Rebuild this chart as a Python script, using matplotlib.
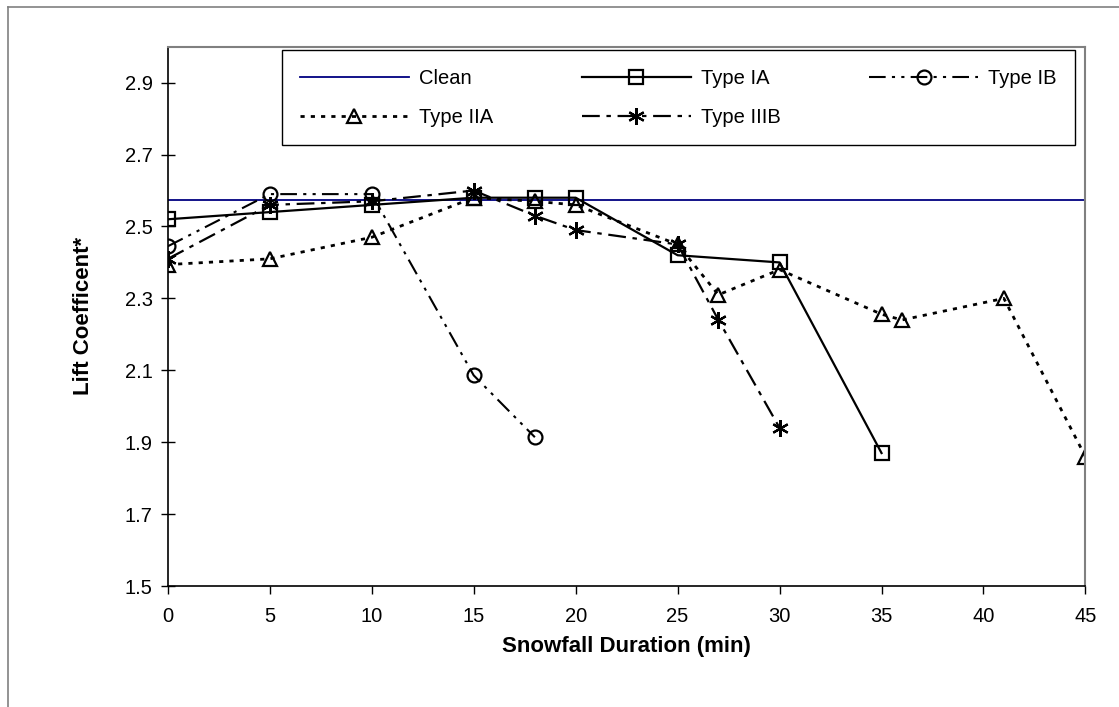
import matplotlib
matplotlib.use("Agg")
import matplotlib.pyplot as plt
from matplotlib.lines import Line2D

plt.rcParams['font.family'] = ['Liberation Sans', 'DejaVu Sans']

# Lift coefficient vs. snowfall duration for each de/anti-icing fluid
clean_cl = 2.575

t_ia = [0, 5, 10, 15, 18, 20, 25, 30, 35]
cl_ia = [2.52, 2.54, 2.56, 2.58, 2.58, 2.58, 2.42, 2.40, 1.87]

t_ib = [0, 5, 10, 15, 18]
cl_ib = [2.445, 2.59, 2.59, 2.086, 1.914]

t_iia = [0, 5, 10, 15, 18, 20, 25, 27, 30, 35, 36, 41, 45]
cl_iia = [2.394, 2.41, 2.47, 2.58, 2.57, 2.56, 2.45, 2.31, 2.38, 2.256, 2.24, 2.30, 1.86]

t_iiib = [0, 5, 10, 15, 18, 20, 25, 27, 30]
cl_iiib = [2.41, 2.56, 2.57, 2.60, 2.53, 2.49, 2.45, 2.24, 1.94]

x_ticks = [0, 5, 10, 15, 20, 25, 30, 35, 40, 45]
y_ticks = [1.5, 1.7, 1.9, 2.1, 2.3, 2.5, 2.7, 2.9]

fig = plt.figure(figsize=(11.19, 7.07), dpi=100)
ax = fig.add_axes([0.150, 0.171, 0.820, 0.763])

# outer chart border (left and top edges)
fig.add_artist(Line2D([8 / 1119, 8 / 1119], [0, 1 - 7 / 707], color='#808080', lw=1.2))
fig.add_artist(Line2D([8 / 1119, 1], [1 - 7 / 707, 1 - 7 / 707], color='#808080', lw=1.2))

mk = dict(markersize=10, markeredgewidth=1.6, markerfacecolor='none', markeredgecolor='black')

h_clean = ax.axhline(clean_cl, color='#000080', lw=1.3, label='Clean')
h_ia, = ax.plot(t_ia, cl_ia, color='black', lw=1.6, marker='s', label='Type IA', **mk)
h_ib, = ax.plot(t_ib, cl_ib, color='black', lw=1.5, ls=(0, (8, 3, 1.5, 3, 1.5, 3)),
                marker='o', label='Type IB', **mk)
h_iia, = ax.plot(t_iia, cl_iia, color='black', lw=2.0, ls=(0, (1.5, 2.2)),
                 marker='^', label='Type IIA', **mk)
h_iiib, = ax.plot(t_iiib, cl_iiib, color='black', lw=1.6, ls=(0, (8, 3, 2, 3)),
                  marker=(6, 2, 0), label='Type IIIB',
                  markersize=12, markeredgewidth=1.6, markeredgecolor='black')

ax.set_xlim(0, 45)
ax.set_ylim(1.5, 3.0)
ax.set_xticks(x_ticks)
ax.set_yticks(y_ticks)
ax.set_yticklabels([f"{v:.1f}" for v in y_ticks])
ax.tick_params(axis='both', labelsize=14.5, color='black', width=1, length=5)
ax.tick_params(axis='y', direction='inout', length=10, pad=6)
ax.tick_params(axis='x', direction='out', length=6, pad=9)

for side in ['top', 'right']:
    ax.spines[side].set_color('#808080')
    ax.spines[side].set_linewidth(1.5)
for side in ['left', 'bottom']:
    ax.spines[side].set_color('black')
    ax.spines[side].set_linewidth(1.2)

ax.set_xlabel('Snowfall Duration (min)', fontsize=16, fontweight='bold', labelpad=7)
ax.set_ylabel('Lift Coefficent*', fontsize=16, fontweight='bold', labelpad=22)

# legend laid out row by row: Clean / IA / IB on top, IIA / IIIB below
handles = [h_clean, h_iia, h_ia, h_iiib, h_ib]
labels = [h.get_label() for h in handles]
leg = ax.legend(handles, labels, ncol=3, mode='expand',
                bbox_to_anchor=(0.1243, 0.84, 0.864, 0.153), loc='upper left',
                borderaxespad=0, fontsize=14.5, handlelength=5.4, handletextpad=0.5,
                columnspacing=1.5, fancybox=False, framealpha=1, edgecolor='black',
                borderpad=0.9, labelspacing=1.0)
leg.get_frame().set_linewidth(1.0)

fig.savefig('out.png', dpi=100)
